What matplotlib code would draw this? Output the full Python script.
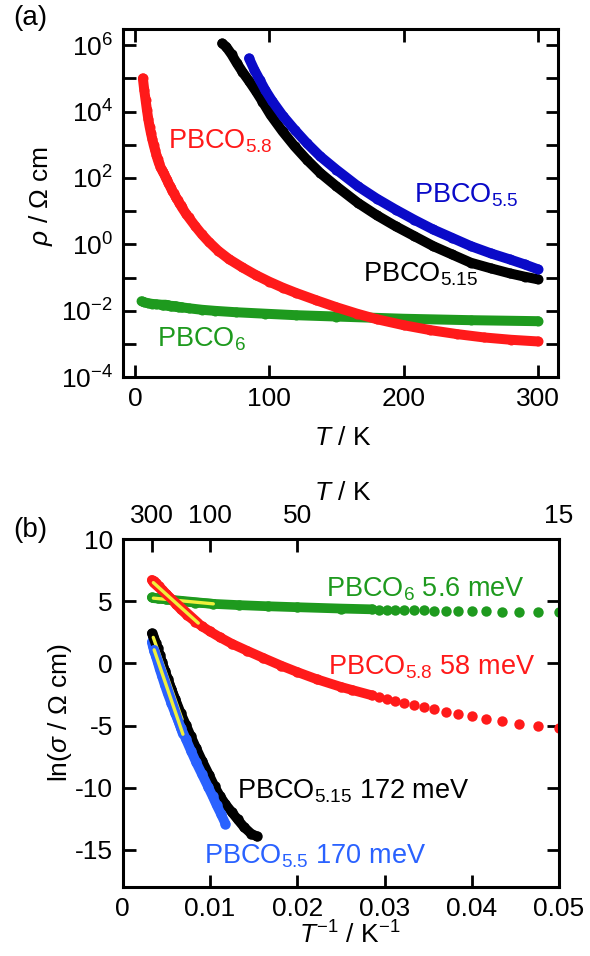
import matplotlib
matplotlib.use("Agg")
import matplotlib.pyplot as plt
import numpy as np

plt.rcParams['font.family'] = ['Liberation Sans', 'DejaVu Sans']
plt.rcParams['mathtext.fontset'] = 'custom'
plt.rcParams['mathtext.rm'] = 'Liberation Sans'
plt.rcParams['mathtext.it'] = 'Liberation Sans:italic'
plt.rcParams['mathtext.bf'] = 'Liberation Sans:bold'
plt.rcParams['axes.unicode_minus'] = False

# readings: temperature (K) and log10(rho / Ohm cm)
T_58 = [6, 7, 8, 9, 10, 11, 12, 13, 14, 15, 16, 17, 18, 19,
        20, 21, 22, 23, 24, 25, 26, 27, 28, 29, 30, 31, 32, 33, 34, 35,
        38, 40, 45, 50, 55, 62, 70, 80, 90, 100, 110, 120, 135, 150, 165,
        180, 200, 220, 240, 260, 280, 300]
lg_58 = [5.0, 4.65, 4.35, 4.05, 3.78, 3.55, 3.35, 3.17, 3.0, 2.85, 2.7, 2.56, 2.44, 2.34,
         2.254, 2.176, 2.106, 2.011, 1.933, 1.850, 1.768, 1.685, 1.607, 1.537, 1.468,
         1.398, 1.325, 1.255, 1.186, 1.116,
         0.93, 0.82, 0.55, 0.3, 0.08, -0.19, -0.44, -0.69, -0.92, -1.12, -1.30, -1.46,
         -1.68, -1.89, -2.08, -2.25, -2.43, -2.58, -2.7, -2.8, -2.87, -2.92]

T_6 = [5, 7, 10, 13, 16,
       20, 21, 22, 23, 24, 25, 26, 27, 28, 29, 30, 31, 32, 33, 34, 35,
       40, 50, 60, 75, 97, 120, 150, 200, 250, 300]
lg_6 = [-1.71, -1.74, -1.77, -1.79, -1.80,
        -1.815, -1.815, -1.815, -1.815, -1.828, -1.828, -1.841, -1.850, -1.850,
        -1.863, -1.863, -1.867, -1.872, -1.880, -1.885, -1.893,
        -1.92, -1.967, -2.0, -2.04, -2.085, -2.13, -2.17, -2.237, -2.28, -2.31]

T_515 = [65, 68, 72, 76, 80, 85, 90, 95, 101, 110, 119, 128, 138, 150, 166,
         180, 194, 208, 222, 236, 250, 265, 279, 290, 300]
lg_515 = [6.05, 5.95, 5.72, 5.45, 5.2, 4.92, 4.62, 4.3, 3.9, 3.4, 2.95, 2.55, 2.15,
          1.75, 1.25, 0.88, 0.55, 0.25, -0.05, -0.3, -0.55, -0.72, -0.87, -0.97, -1.05]

T_55 = [85, 89, 93, 97, 102, 110, 119, 128, 138, 150, 166, 180, 194, 208, 222,
        236, 250, 265, 279, 290, 300]
lg_55 = [5.6, 5.25, 4.95, 4.65, 4.33, 3.88, 3.45, 3.05, 2.65, 2.25, 1.75, 1.38,
         1.05, 0.74, 0.45, 0.2, -0.05, -0.27, -0.45, -0.6, -0.75]

# Arrhenius fit segments in panel (b): (1/T, ln sigma) end points
fit_6 = ([0.00351, 0.01038], [5.26, 4.80])
fit_58 = ([0.00351, 0.00866], [6.51, 3.25])
fit_515 = ([0.0035, 0.0068], [2.1, -4.5])
fit_55 = ([0.0036, 0.0069], [1.1, -5.7])

c_red = '#ff1a1a'
c_green = '#1e9a1e'
c_black = '#000000'
c_blue_a = '#0a0ac8'
c_blue_b = '#2a62ff'
c_yellow = '#f0f03c'

fs = 19

fig = plt.figure(figsize=(5.9, 9.56), dpi=100)

# ---------- (a) ----------
ax = fig.add_axes([0.208, 0.6053, 0.738, 0.3641])
series_a = [(T_6, lg_6, c_green), (T_58, lg_58, c_red),
            (T_515, lg_515, c_black), (T_55, lg_55, c_blue_a)]
for T, lg, c in series_a:
    rho = 10 ** np.array(lg)
    ax.plot(T, rho, '-', color=c, lw=7.2, solid_capstyle='round',
            solid_joinstyle='round')
    ax.plot(T, rho, 'o', color=c, ms=7.2, mew=0)
ax.set_yscale('log')
ax.set_xlim(-9, 315)
ax.set_ylim(1e-4, 3e6)
ax.set_xticks([0, 100, 200, 300])
yt = [10.0 ** k for k in range(-4, 7)]
ax.set_yticks(yt)
ax.set_yticklabels(['$10^{%d}$' % k if k % 2 == 0 else '' for k in range(-4, 7)])
ax.minorticks_off()
ax.tick_params(direction='in', top=True, right=True, length=9, width=2,
               labelsize=fs, pad=7)
for s in ax.spines.values():
    s.set_linewidth(2.2)
ax.set_xlabel('$T$ / K', fontsize=fs)
ax.xaxis.set_label_coords(0.505, -0.14)
ax.set_ylabel('$\\rho$ / \u03a9 cm', fontsize=fs)
ax.yaxis.set_label_coords(-0.155, 0.52)

ax.text(24.6, 10 ** 2.88, 'PBCO$_{5.8}$', color=c_red, fontsize=fs + 0.5, va='baseline')
ax.text(208, 10 ** 1.26, 'PBCO$_{5.5}$', color=c_blue_a, fontsize=fs + 0.5, va='baseline')
ax.text(170, 10 ** -1.12, 'PBCO$_{5.15}$', color=c_black, fontsize=fs + 0.5, va='baseline')
ax.text(16.4, 10 ** -3.07, 'PBCO$_{6}$', color=c_green, fontsize=fs + 0.5, va='baseline')

fig.text(13 / 590, 1 - 18 / 956, '(a)', fontsize=fs + 1, va='center')

# ---------- (b) ----------
bx = fig.add_axes([0.208, 0.0722, 0.7395, 0.3637])
series_b = [(T_6, lg_6, c_green), (T_58, lg_58, c_red),
            (T_515, lg_515, c_black), (T_55, lg_55, c_blue_b)]
for T, lg, c in series_b:
    T = np.array(T, dtype=float)
    x = 1.0 / T
    y = -np.log(10) * np.array(lg)
    dense = T >= 35
    bx.plot(x[dense], y[dense], '-', color=c, lw=7, solid_capstyle='round',
            solid_joinstyle='round')
    bx.plot(x, y, 'o', color=c, ms=7.5, mew=0)

for (fx, fy), c in [(fit_6, c_green), (fit_58, c_red),
                    (fit_515, c_black), (fit_55, c_blue_b)]:
    bx.plot(fx, fy, '-', color=c, lw=7, solid_capstyle='round')
    bx.plot(fx, fy, '-', color=c_yellow, lw=2.4, solid_capstyle='round')

bx.set_xlim(0, 0.05)
bx.set_ylim(-18, 10)
bx.set_xticks([0, 0.01, 0.02, 0.03, 0.04, 0.05])
bx.set_xticklabels(['0', '0.01', '0.02', '0.03', '0.04', '0.05'])
bx.set_yticks([-15, -10, -5, 0, 5, 10])
bx.tick_params(direction='in', top=False, right=True, length=9, width=2,
               labelsize=fs, pad=7)
for s in bx.spines.values():
    s.set_linewidth(2.2)
bx.set_xlabel('$T^{-1}$ / K$^{-1}$', fontsize=fs)
bx.xaxis.set_label_coords(0.52, -0.098)
bx.set_ylabel('ln($\\sigma$ / \u03a9 cm)', fontsize=fs)
bx.yaxis.set_label_coords(-0.112, 0.5)

tx = bx.twiny()
tx.set_xlim(bx.get_xlim())
tx.set_xticks([1 / 300, 1 / 100, 1 / 50, 0.05])
tx.set_xticklabels(['300', '100', '50', '15'])
tx.tick_params(direction='in', length=9, width=2, labelsize=fs, pad=8)
tx.set_xlabel('$T$ / K', fontsize=fs)
tx.xaxis.set_label_coords(0.505, 1.113)

bx.text(0.0233, 5.36, 'PBCO$_{6}$ 5.6 meV', color=c_green, fontsize=fs + 0.5, va='baseline')
bx.text(0.0235, -0.91, 'PBCO$_{5.8}$ 58 meV', color=c_red, fontsize=fs + 0.5, va='baseline')
bx.text(0.0131, -10.88, 'PBCO$_{5.15}$ 172 meV', color=c_black, fontsize=fs + 0.5, va='baseline')
bx.text(0.00932, -16.1, 'PBCO$_{5.5}$ 170 meV', color=c_blue_b, fontsize=fs + 0.5, va='baseline')

fig.text(13 / 590, 1 - 530 / 956, '(b)', fontsize=fs + 1, va='center')

fig.savefig('out.png', dpi=100)
